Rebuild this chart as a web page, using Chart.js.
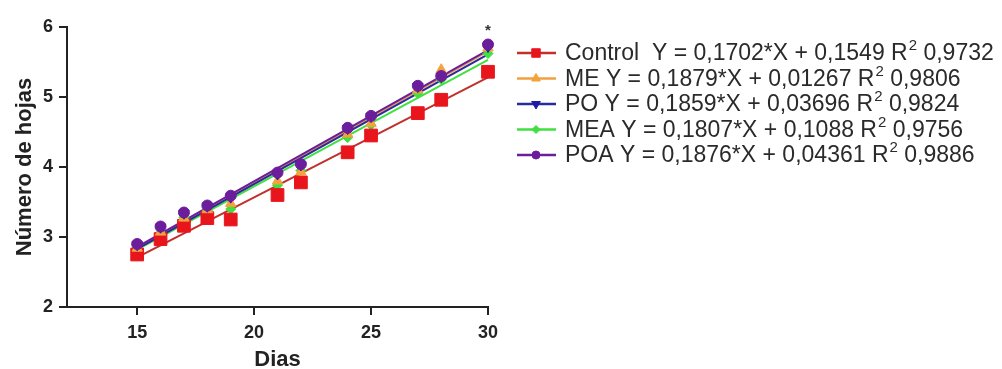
<!DOCTYPE html>
<html>
<head>
<meta charset="utf-8">
<script src="https://cdn.jsdelivr.net/npm/chart.js@4/dist/chart.umd.min.js"></script>
<style>
  html, body { margin: 0; padding: 0; background: #fff; }
  #wrap { width: 1002px; height: 369px; position: relative; }
</style>
</head>
<body>
<div id="wrap"><canvas id="c" width="1002" height="369"></canvas></div>
<script>
// ---- data ----
const days = [15, 16, 17, 18, 19, 21, 22, 24, 25, 27, 28, 30];
const controlValues = [2.75, 2.97, 3.16, 3.27, 3.25, 3.60, 3.78, 4.21, 4.45, 4.77, 4.96, 5.36];
const meValues      = [2.84, 3.07, 3.27, 3.39, 3.48, 3.80, 3.93, 4.47, 4.62, 5.10, 5.39, 5.70];
const poValues      = [2.89, 3.14, 3.34, 3.44, 3.57, 3.90, 4.03, 4.55, 4.72, 5.15, 5.29, 5.72];
const meaValues     = [2.84, 3.06, 3.28, 3.38, 3.40, 3.74, 3.95, 4.42, 4.60, 5.05, 5.25, 5.62];
const poaValues     = [2.90, 3.15, 3.35, 3.45, 3.59, 3.92, 4.04, 4.56, 4.73, 5.16, 5.30, 5.75];

// regression line ends (at first and last day)
const fitDays    = [15, 30];
const controlFit = [2.71, 5.28];
const meFit      = [2.83, 5.65];
const poFit      = [2.83, 5.61];
const meaFit     = [2.82, 5.53];
const poaFit     = [2.86, 5.67];

const seriesNames = ['Control', 'ME', 'PO', 'MEA', 'POA'];
const legendTexts = [
  'Control  Y = 0,1702*X + 0,1549 R',
  'ME Y = 0,1879*X + 0,01267 R',
  'PO Y = 0,1859*X + 0,03696 R',
  'MEA Y = 0,1807*X + 0,1088 R',
  'POA Y = 0,1876*X + 0,04361 R'
];
const r2Texts = ['0,9732', '0,9806', '0,9824', '0,9756', '0,9886'];

const xTicks = [15, 20, 25, 30];
const yTicks = [2, 3, 4, 5, 6];
const xTitle = 'Dias';
const yTitle = 'Número de hojas';
const marks = [{ x: 30, y: 6, text: '*' }];

// ---- styles ----
const markerColors = ['#e8161c', '#f4a23c', '#1c1ca2', '#3fe03f', '#6b1d9b'];
const lineColors   = ['#c0302c', '#f0a040', '#2a2aa0', '#3fe03f', '#6b1d9b'];
const pointStyles  = ['rect', 'triangle', 'triangle', 'rectRot', 'circle'];
const pointRots    = [0, 0, 180, 0, 0];
const pointRadii   = [9, 6, 6, 5, 5.5];
const legendRadii  = [6, 5, 5, 4, 4];

const values = [controlValues, meValues, poValues, meaValues, poaValues];
const fits = [controlFit, meFit, poFit, meaFit, poaFit];

const datasets = [];
const pointOrder = [4, 2, 1, 0, 3];
pointOrder.forEach(i => {
  datasets.push({
    label: seriesNames[i],
    data: days.map((d, k) => ({ x: d, y: values[i][k] })),
    showLine: false,
    clip: false,
    pointStyle: pointStyles[i],
    rotation: pointRots[i],
    pointRadius: pointRadii[i],
    pointBackgroundColor: markerColors[i],
    pointBorderColor: markerColors[i],
    pointBorderWidth: 1
  });
});
[0, 4, 2, 1, 3].forEach(i => {
  datasets.push({
    label: seriesNames[i] + ' fit',
    data: fitDays.map((d, k) => ({ x: d, y: fits[i][k] })),
    showLine: true,
    clip: false,
    borderColor: lineColors[i],
    borderWidth: 2,
    pointRadius: 0,
    fill: false
  });
});

const FONT = '"Liberation Sans", Arial, Helvetica, sans-serif';
const TXT = '#222';

const legendPlugin = {
  id: 'customLegend',
  afterDraw(chart) {
    const ctx = chart.ctx;
    ctx.save();
    const rowY0 = 53, rowStep = 25.5;
    const lx0 = 517, lx1 = 556, mx = 536, tx = 565;
    seriesNames.forEach((name, i) => {
      const y = rowY0 + i * rowStep;
      ctx.strokeStyle = lineColors[i];
      ctx.lineWidth = 2.5;
      ctx.beginPath(); ctx.moveTo(lx0, y); ctx.lineTo(lx1, y); ctx.stroke();
      ctx.fillStyle = markerColors[i];
      ctx.strokeStyle = markerColors[i];
      ctx.lineWidth = 1;
      Chart.helpers.drawPoint(ctx, { pointStyle: pointStyles[i], rotation: pointRots[i], radius: legendRadii[i], borderWidth: 1 }, mx, y);
      ctx.fillStyle = '#2a2a2a';
      ctx.textBaseline = 'middle';
      ctx.textAlign = 'left';
      ctx.font = '23px ' + FONT;
      ctx.fillText(legendTexts[i], tx, y + 1);
      const w = ctx.measureText(legendTexts[i]).width;
      ctx.font = '15px ' + FONT;
      ctx.fillText('2', tx + w + 1, y - 7);
      const w2 = ctx.measureText('2').width;
      ctx.font = '23px ' + FONT;
      ctx.fillText(' ' + r2Texts[i], tx + w + w2 + 1, y + 1);
    });
    const xs = chart.scales.x, ys = chart.scales.y;
    ctx.fillStyle = '#333';
    ctx.font = 'bold 15px ' + FONT;
    ctx.textAlign = 'center';
    marks.forEach(m => {
      ctx.fillText(m.text, xs.getPixelForValue(m.x), ys.getPixelForValue(m.y) + 4);
    });
    ctx.restore();
  }
};

new Chart(document.getElementById('c'), {
  type: 'scatter',
  data: { datasets },
  plugins: [legendPlugin],
  options: {
    responsive: false,
    animation: false,
    devicePixelRatio: 1,
    layout: { padding: { left: 0, right: 514, top: 27, bottom: 0 } },
    plugins: { legend: { display: false }, tooltip: { enabled: false } },
    scales: {
      x: {
        type: 'linear', min: 12, max: 30,
        afterBuildTicks: (s) => { s.ticks = xTicks.map(v => ({ value: v })); },
        afterFit: (s) => { s.height = 62; },
        border: { display: true, color: TXT, width: 2 },
        grid: { display: true, drawOnChartArea: false, drawTicks: true, tickLength: 8, color: TXT, lineWidth: 2 },
        ticks: { color: TXT, font: { family: FONT, size: 18, weight: 'bold' }, padding: 7, maxRotation: 0 },
        title: { display: true, text: xTitle, color: TXT, font: { family: FONT, size: 22, weight: 'bold', lineHeight: 0.8 }, padding: { top: 0, bottom: 0 } }
      },
      y: {
        type: 'linear', min: 2, max: 6,
        afterBuildTicks: (s) => { s.ticks = yTicks.map(v => ({ value: v })); },
        afterFit: (s) => { s.width = 67; },
        border: { display: true, color: TXT, width: 2 },
        grid: { display: true, drawOnChartArea: false, drawTicks: true, tickLength: 8, color: TXT, lineWidth: 2 },
        ticks: { color: TXT, font: { family: FONT, size: 18, weight: 'bold' }, padding: 6 },
        title: { display: true, text: yTitle, color: TXT, font: { family: FONT, size: 22, weight: 'bold', lineHeight: 1.2 }, padding: { top: 12, bottom: 0 } }
      }
    }
  }
});
</script>
</body>
</html>
